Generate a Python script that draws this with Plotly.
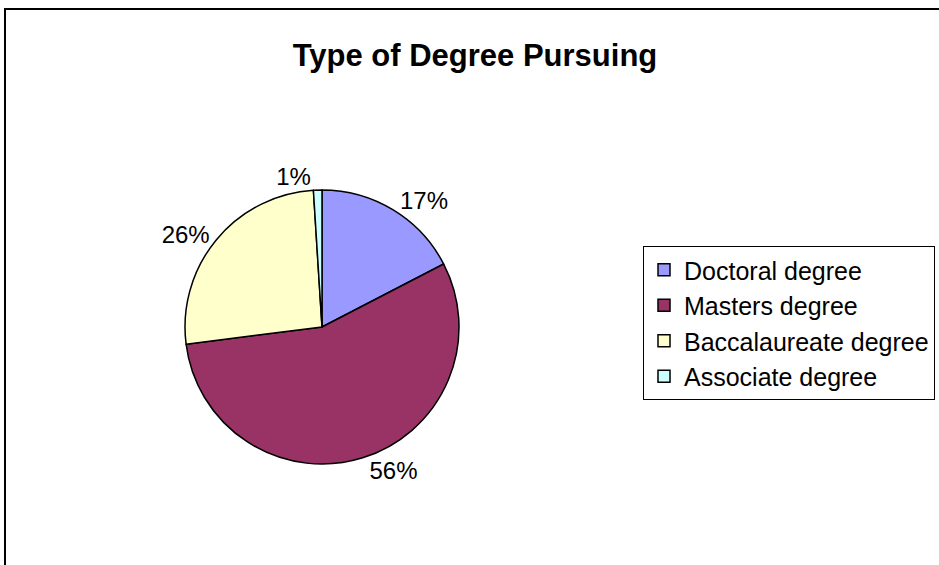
import plotly.graph_objects as go

categories = ["Doctoral degree", "Masters degree", "Baccalaureate degree", "Associate degree"]
percent_values = [17.4, 55.6, 26.0, 1.0]
slice_colors = ["#9999FF", "#993366", "#FFFFCC", "#CCFFFF"]
title_text = "Type of Degree Pursuing"

W, H = 939, 565
cx, cy, r = 322, 327, 137

fig = go.Figure()
fig.add_trace(go.Pie(
    labels=categories,
    values=percent_values,
    sort=False,
    direction="clockwise",
    rotation=0,
    marker=dict(colors=slice_colors, line=dict(color="black", width=1.5)),
    textinfo="percent",
    texttemplate="%{percent:.0%}",
    textposition="outside",
    outsidetextfont=dict(family="Liberation Sans, Arial", size=24, color="black"),
    domain=dict(x=[(cx - r) / W, (cx + r) / W], y=[(H - cy - r) / H, (H - cy + r) / H]),
    hoverinfo="label+percent",
))

fig.update_layout(
    width=W, height=H,
    margin=dict(l=0, r=0, t=0, b=0),
    paper_bgcolor="white",
    plot_bgcolor="white",
    font=dict(family="Liberation Sans, Arial", color="black"),
    title=dict(text="<b>" + title_text + "</b>", x=475 / W, xanchor="center",
               y=1 - 55 / H, yanchor="middle",
               font=dict(size=31, family="Liberation Sans, Arial", color="black")),
    legend=dict(
        x=643 / W, y=1 - 246 / H, xanchor="left", yanchor="top",
        bordercolor="black", borderwidth=1, bgcolor="white",
        font=dict(size=25, family="Liberation Sans, Arial", color="black"),
        traceorder="normal",
    ),
    shapes=[dict(type="rect", xref="paper", yref="paper",
                 x0=5 / W, x1=1.02, y0=-0.02, y1=1 - 9 / H,
                 line=dict(color="black", width=2), fillcolor="rgba(0,0,0,0)",
                 layer="below")],
)

fig.write_html("out.html", config={"displayModeBar": False},
               post_script="document.body.style.margin='0';")
